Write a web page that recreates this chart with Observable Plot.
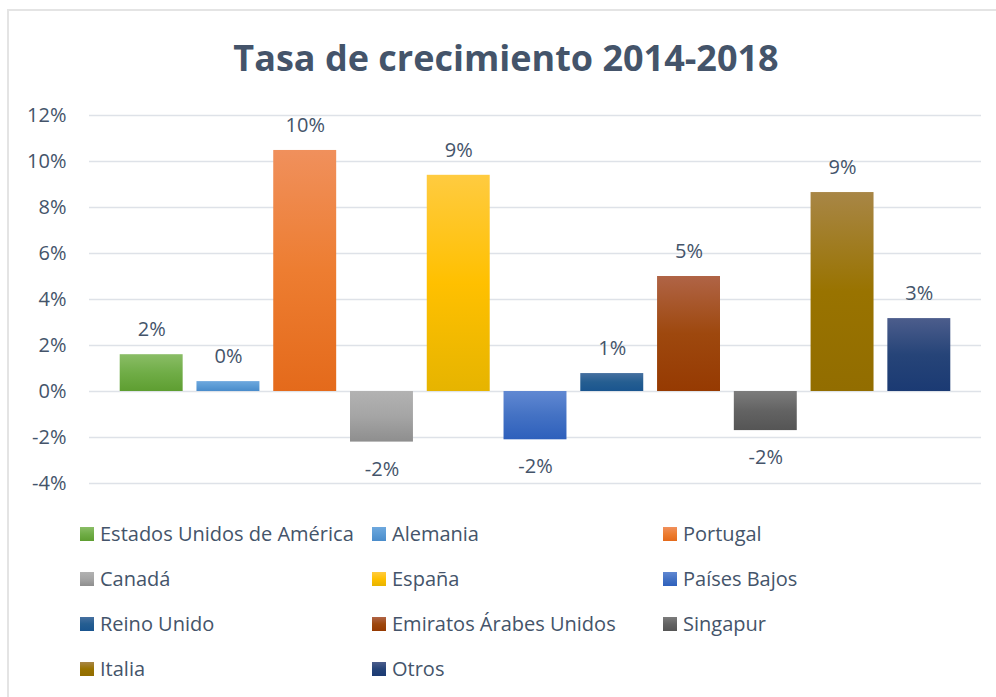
<!DOCTYPE html>
<html><head><meta charset="utf-8">
<script src="https://cdn.jsdelivr.net/npm/d3@7"></script>
<script src="https://cdn.jsdelivr.net/npm/@observablehq/plot@0.6"></script>
<style>
html,body{margin:0;padding:0;background:#fff;}
body{width:996px;height:697px;overflow:hidden;position:relative;font-family:"Open Sans",sans-serif;color:#44546A;}
#frame{position:absolute;left:7px;top:9px;width:1100px;height:800px;border:2px solid #E4E4E4;box-sizing:border-box;}
#title{position:absolute;left:10px;width:992px;top:40px;line-height:36px;font-size:36px;font-weight:700;text-align:center;}
#chart{position:absolute;left:0;top:100px;}
#legend{position:absolute;left:80px;top:511px;display:grid;grid-template-columns:292px 291px 292px;grid-auto-rows:45px;}
.item{display:flex;align-items:center;font-size:20px;white-space:nowrap;}
.sw{width:14px;height:14px;margin-right:6px;flex:none;}
</style></head><body>
<div id="frame"></div>
<div id="title"></div>
<div id="chart"></div>
<div id="legend"></div>
<script>
const title = "Tasa de crecimiento 2014-2018";
const countries = ["Estados Unidos de América","Alemania","Portugal","Canadá","España","Países Bajos","Reino Unido","Emiratos Árabes Unidos","Singapur","Italia","Otros"];
const values = [1.6, 0.43, 10.48, -2.2, 9.4, -2.1, 0.78, 5.0, -1.7, 8.65, 3.17];
const baseColors = ["#70AD47","#5B9BD5","#ED7D31","#A5A5A5","#FFC000","#4472C4","#255E91","#9E480E","#636363","#997300","#264478"];
const topColors = ["#8ABD66","#6EA8DE","#F0905C","#B2B2B2","#FFCB40","#6088D2","#4670A0","#B06446","#7C7C7C","#A88646","#4C5D8C"];
const bottomColors = ["#5E9E31","#4A8CCB","#E46A1B","#8E8E8E","#E6B400","#2E60BC","#1A558F","#963A02","#555555","#926D00","#1B3A73"];
const yTicks = [-4,-2,0,2,4,6,8,10,12];

document.getElementById("title").textContent = title;

const data = countries.map((c,i)=>({country:c, value:values[i], idx:i}));
const fmt = d => Math.round(d.value) + "%";

const chart = Plot.plot({
  width: 996,
  height: 400,
  marginTop: 15,
  marginBottom: 17,
  marginLeft: 89,
  marginRight: 15,
  style: {color:"#44546A", fontFamily:"'Open Sans', sans-serif", fontSize:"20px", background:"transparent", overflow:"visible"},
  x: {domain: countries, paddingInner: 0.18, paddingOuter: 0.40, round: false, axis: null},
  y: {domain: [-4, 12]},
  color: {type: "identity"},
  marks: [
    Plot.gridY(yTicks, {stroke:"#DEE2E8", strokeOpacity:1, strokeWidth:1.5}),
    Plot.axisY(yTicks, {tickSize:0, tickPadding:23, tickFormat: d => d + "%", label:null, fontSize:20}),
    Plot.barY(data, {x:"country", y:"value", fill: d => `url(#grad${d.idx})`}),
    Plot.text(data.filter(d=>d.value>=0), {x:"country", y:"value", text: fmt, dy:-25, fontSize:20, fill:"#44546A"}),
    Plot.text(data.filter(d=>d.value<0), {x:"country", y:"value", text: fmt, dy:27, fontSize:20, fill:"#44546A"})
  ]
});

const defs = d3.select(chart).insert("defs", ":first-child");
countries.forEach((c,i)=>{
  const g = defs.append("linearGradient").attr("id","grad"+i).attr("x1",0).attr("y1",0).attr("x2",0).attr("y2",1);
  g.append("stop").attr("offset","0%").attr("stop-color",topColors[i]);
  g.append("stop").attr("offset","50%").attr("stop-color",baseColors[i]);
  g.append("stop").attr("offset","100%").attr("stop-color",bottomColors[i]);
});
document.getElementById("chart").appendChild(chart);

const legend = d3.select("#legend");
countries.forEach((c,i)=>{
  const it = legend.append("div").attr("class","item");
  it.append("div").attr("class","sw").style("background",`linear-gradient(${topColors[i]}, ${baseColors[i]}, ${bottomColors[i]})`);
  it.append("span").text(c);
});
</script>
</body></html>
